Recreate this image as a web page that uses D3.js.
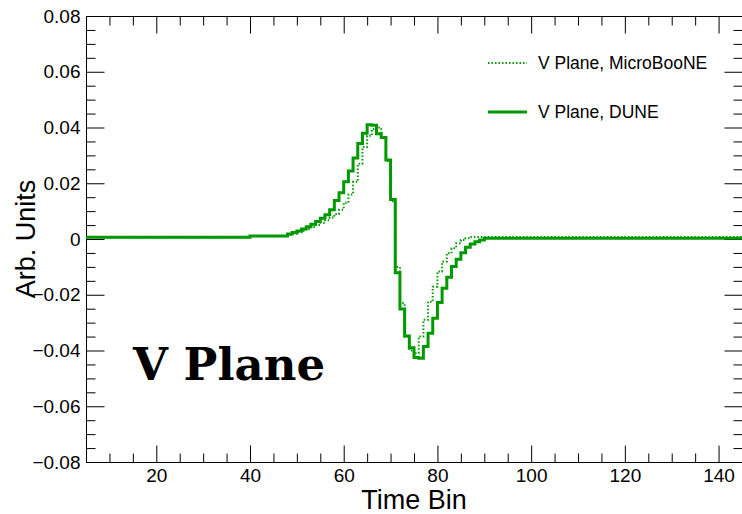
<!DOCTYPE html>
<html>
<head>
<meta charset="utf-8">
<script src="https://cdn.jsdelivr.net/npm/d3@7"></script>
<style>
  html, body { margin: 0; padding: 0; background: #fff; }
  svg { display: block; }
</style>
</head>
<body>
<svg id="chart" width="742" height="514"></svg>
<script>
// ---- data ----
const binStart = 5;            // first bin low edge (Time Bin)
const binEnd = 145;            // last bin high edge
// V Plane, DUNE (bins 5..144)
const duneValues = [
  0.0006,0.0006,0.0006,0.0006,0.0006,0.0006,0.0006,0.0006,0.0006,0.0006,
  0.0006,0.0006,0.0006,0.0006,0.0006,0.0006,0.0006,0.0006,0.0006,0.0006,
  0.0006,0.0006,0.0006,0.0006,0.0006,0.0006,0.0006,0.0006,0.0006,0.0006,
  0.0006,0.0006,0.0006,0.0006,0.0006,
  0.0011,0.0011,0.0011,0.0011,0.0011,0.0011,0.0011,0.0011,
  0.0018,0.0023,0.0029,0.0036,0.0044,0.0053,0.0063,0.0074,0.0087,0.0105,
  0.0138,0.0166,0.0205,0.0244,0.0291,0.0343,0.0379,0.0410,0.0408,0.0378,
  0.0364,0.0283,0.0142,-0.0121,-0.0251,-0.0348,-0.0390,-0.0425,-0.0428,-0.0386,
  -0.0338,-0.0284,-0.0228,-0.0177,-0.0137,-0.0099,-0.0073,-0.0049,-0.0030,-0.0018,-0.0010,-0.0004,
  0.0003,0.0003,0.0003,0.0003,0.0003,0.0003,0.0003,0.0003,0.0003,0.0003,
  0.0003,0.0003,0.0003,0.0003,0.0003,0.0003,0.0003,0.0003,0.0003,0.0003,
  0.0003,0.0003,0.0003,0.0003,0.0003,0.0003,0.0003,0.0003,0.0003,0.0003,
  0.0003,0.0003,0.0003,0.0003,0.0003,0.0003,0.0003,0.0003,0.0003,0.0003,
  0.0003,0.0003,0.0003,0.0003,0.0003,0.0003,0.0003,0.0003,0.0003,0.0003,
  0.0003,0.0003,0.0003,0.0003,0.0003
];
// V Plane, MicroBooNE (bins 5..144)
const ubooneValues = [
  0.0005,0.0005,0.0005,0.0005,0.0005,0.0005,0.0005,0.0005,0.0005,0.0005,
  0.0005,0.0005,0.0005,0.0005,0.0005,0.0005,0.0005,0.0005,0.0005,0.0005,
  0.0005,0.0005,0.0005,0.0005,0.0005,0.0005,0.0005,0.0005,0.0005,0.0005,
  0.0005,0.0005,0.0005,0.0005,0.0005,
  0.0010,0.0010,0.0010,0.0010,0.0010,0.0010,0.0010,0.0010,
  0.0015,0.0019,0.0024,0.0030,0.0036,0.0043,0.0050,0.0058,0.0067,0.0077,
  0.0090,0.0105,0.0130,0.0160,0.0205,0.0270,0.0330,0.0370,0.0395,0.0400,
  0.0365,0.0280,0.0135,-0.0100,-0.0230,-0.0350,-0.0400,-0.0410,-0.0350,-0.0290,
  -0.0225,-0.0171,-0.0117,-0.0081,-0.0051,-0.0033,-0.0015,-0.0004,0.0003,
  0.0007,0.0007,0.0007,0.0007,0.0007,0.0007,0.0007,0.0007,0.0007,0.0007,
  0.0007,0.0007,0.0007,0.0007,0.0007,0.0007,0.0007,0.0007,0.0007,0.0007,
  0.0007,0.0007,0.0007,0.0007,0.0007,0.0007,0.0007,0.0007,0.0007,0.0007,
  0.0007,0.0007,0.0007,0.0007,0.0007,0.0007,0.0007,0.0007,0.0007,0.0007,
  0.0007,0.0007,0.0007,0.0007,0.0007,0.0007,0.0007,0.0007,0.0007,0.0007,
  0.0007,0.0007,0.0007,0.0007,0.0007,0.0007,0.0007,0.0007
];
const xMajorTicks = [20, 40, 60, 80, 100, 120, 140];
const xMinorTicks = [10, 15, 25, 30, 35, 45, 50, 55, 65, 70, 75, 85, 90, 95, 105, 110, 115, 125, 130, 135, 145];
const yMajorTicks = [-0.08, -0.06, -0.04, -0.02, 0, 0.02, 0.04, 0.06, 0.08];
const yMinorTicks = [-0.075, -0.07, -0.065, -0.055, -0.05, -0.045, -0.035, -0.03, -0.025,
  -0.015, -0.01, -0.005, 0.005, 0.01, 0.015, 0.025, 0.03, 0.035, 0.045, 0.05, 0.055, 0.065, 0.07, 0.075];
const seriesNames = ["V Plane, MicroBooNE", "V Plane, DUNE"];
const xTitle = "Time Bin";
const yTitle = "Arb. Units";
const planeLabel = "V Plane";

// ---- layout ----
const L = 86, R = 742, T = 16, B = 462;
const green = "#009900";
const sans = "'Liberation Sans', Arial, Helvetica, sans-serif";

const svg = d3.select("#chart");
const x = d3.scaleLinear().domain([binStart, binEnd]).range([L, R]);
const y = d3.scaleLinear().domain([-0.08, 0.08]).range([B, T]);

// frame
svg.append("rect").attr("x", L + 0.5).attr("y", T + 0.5)
  .attr("width", R - L).attr("height", B - T)
  .attr("fill", "none").attr("stroke", "#000").attr("stroke-width", 1);

const fmtY = d => d === 0 ? "0" : d3.format(".2f")(d);

// bottom axis (major + minor), ticks pointing inward
svg.append("g").attr("transform", `translate(0,${B + 0.5})`)
  .call(d3.axisBottom(x).tickValues(xMajorTicks).tickSizeInner(-17).tickSizeOuter(0).tickPadding(6));
svg.append("g").attr("transform", `translate(0,${B + 0.5})`)
  .call(d3.axisBottom(x).tickValues(xMinorTicks).tickSizeInner(-9).tickSizeOuter(0).tickFormat(""));
// top axis ticks
svg.append("g").attr("transform", `translate(0,${T + 0.5})`)
  .call(d3.axisTop(x).tickValues(xMajorTicks).tickSizeInner(-17).tickSizeOuter(0).tickFormat(""));
svg.append("g").attr("transform", `translate(0,${T + 0.5})`)
  .call(d3.axisTop(x).tickValues(xMinorTicks).tickSizeInner(-9).tickSizeOuter(0).tickFormat(""));
// left axis
svg.append("g").attr("transform", `translate(${L + 0.5},0)`)
  .call(d3.axisLeft(y).tickValues(yMajorTicks).tickSizeInner(-18).tickSizeOuter(0).tickPadding(6).tickFormat(fmtY));
svg.append("g").attr("transform", `translate(${L + 0.5},0)`)
  .call(d3.axisLeft(y).tickValues(yMinorTicks).tickSizeInner(-9).tickSizeOuter(0).tickFormat(""));
// right axis ticks
svg.append("g").attr("transform", `translate(${R + 0.5},0)`)
  .call(d3.axisRight(y).tickValues(yMajorTicks).tickSizeInner(-18).tickSizeOuter(0).tickFormat(""));
svg.append("g").attr("transform", `translate(${R + 0.5},0)`)
  .call(d3.axisRight(y).tickValues(yMinorTicks).tickSizeInner(-9).tickSizeOuter(0).tickFormat(""));

svg.selectAll(".domain").remove();
svg.selectAll(".tick line").attr("stroke", "#000").attr("stroke-width", 1);
svg.selectAll(".tick text").style("font-size", "19px").style("font-family", sans).attr("fill", "#000");

// axis titles
svg.append("text").attr("x", (L + R) / 2).attr("y", 509)
  .attr("text-anchor", "middle").style("font-family", sans).style("font-size", "27px").text(xTitle);
svg.append("text").attr("transform", `translate(35,${(T + B) / 2}) rotate(-90)`)
  .attr("text-anchor", "middle").style("font-family", sans).style("font-size", "27px").text(yTitle);

// histograms (step)
function stepPoints(vals) {
  const pts = vals.map((v, i) => [binStart + i, v]);
  pts.push([binStart + vals.length, vals[vals.length - 1]]);
  return pts;
}
const line = d3.line().x(d => x(d[0])).y(d => y(d[1])).curve(d3.curveStepAfter);

svg.append("path").datum(stepPoints(ubooneValues))
  .attr("d", line).attr("fill", "none").attr("stroke", green)
  .attr("stroke-width", 2).attr("stroke-dasharray", "1.5,2");
svg.append("path").datum(stepPoints(duneValues))
  .attr("d", line).attr("fill", "none").attr("stroke", green)
  .attr("stroke-width", 3);

// legend
const legend = svg.append("g");
const legY = [63, 112];
legend.append("line").attr("x1", 488).attr("x2", 527).attr("y1", legY[0]).attr("y2", legY[0])
  .attr("stroke", green).attr("stroke-width", 2).attr("stroke-dasharray", "1.5,2");
legend.append("line").attr("x1", 488).attr("x2", 527).attr("y1", legY[1]).attr("y2", legY[1])
  .attr("stroke", green).attr("stroke-width", 3);
seriesNames.forEach((n, i) => {
  legend.append("text").attr("x", 538).attr("y", legY[i]).attr("dy", "0.35em")
    .style("font-family", sans).style("font-size", "17.5px").text(n);
});

// plane label
svg.append("text").attr("x", 133).attr("y", 380)
  .style("font-family", "'DejaVu Serif', serif").style("font-weight", "bold")
  .style("font-size", "45px").text(planeLabel);
</script>
</body>
</html>
